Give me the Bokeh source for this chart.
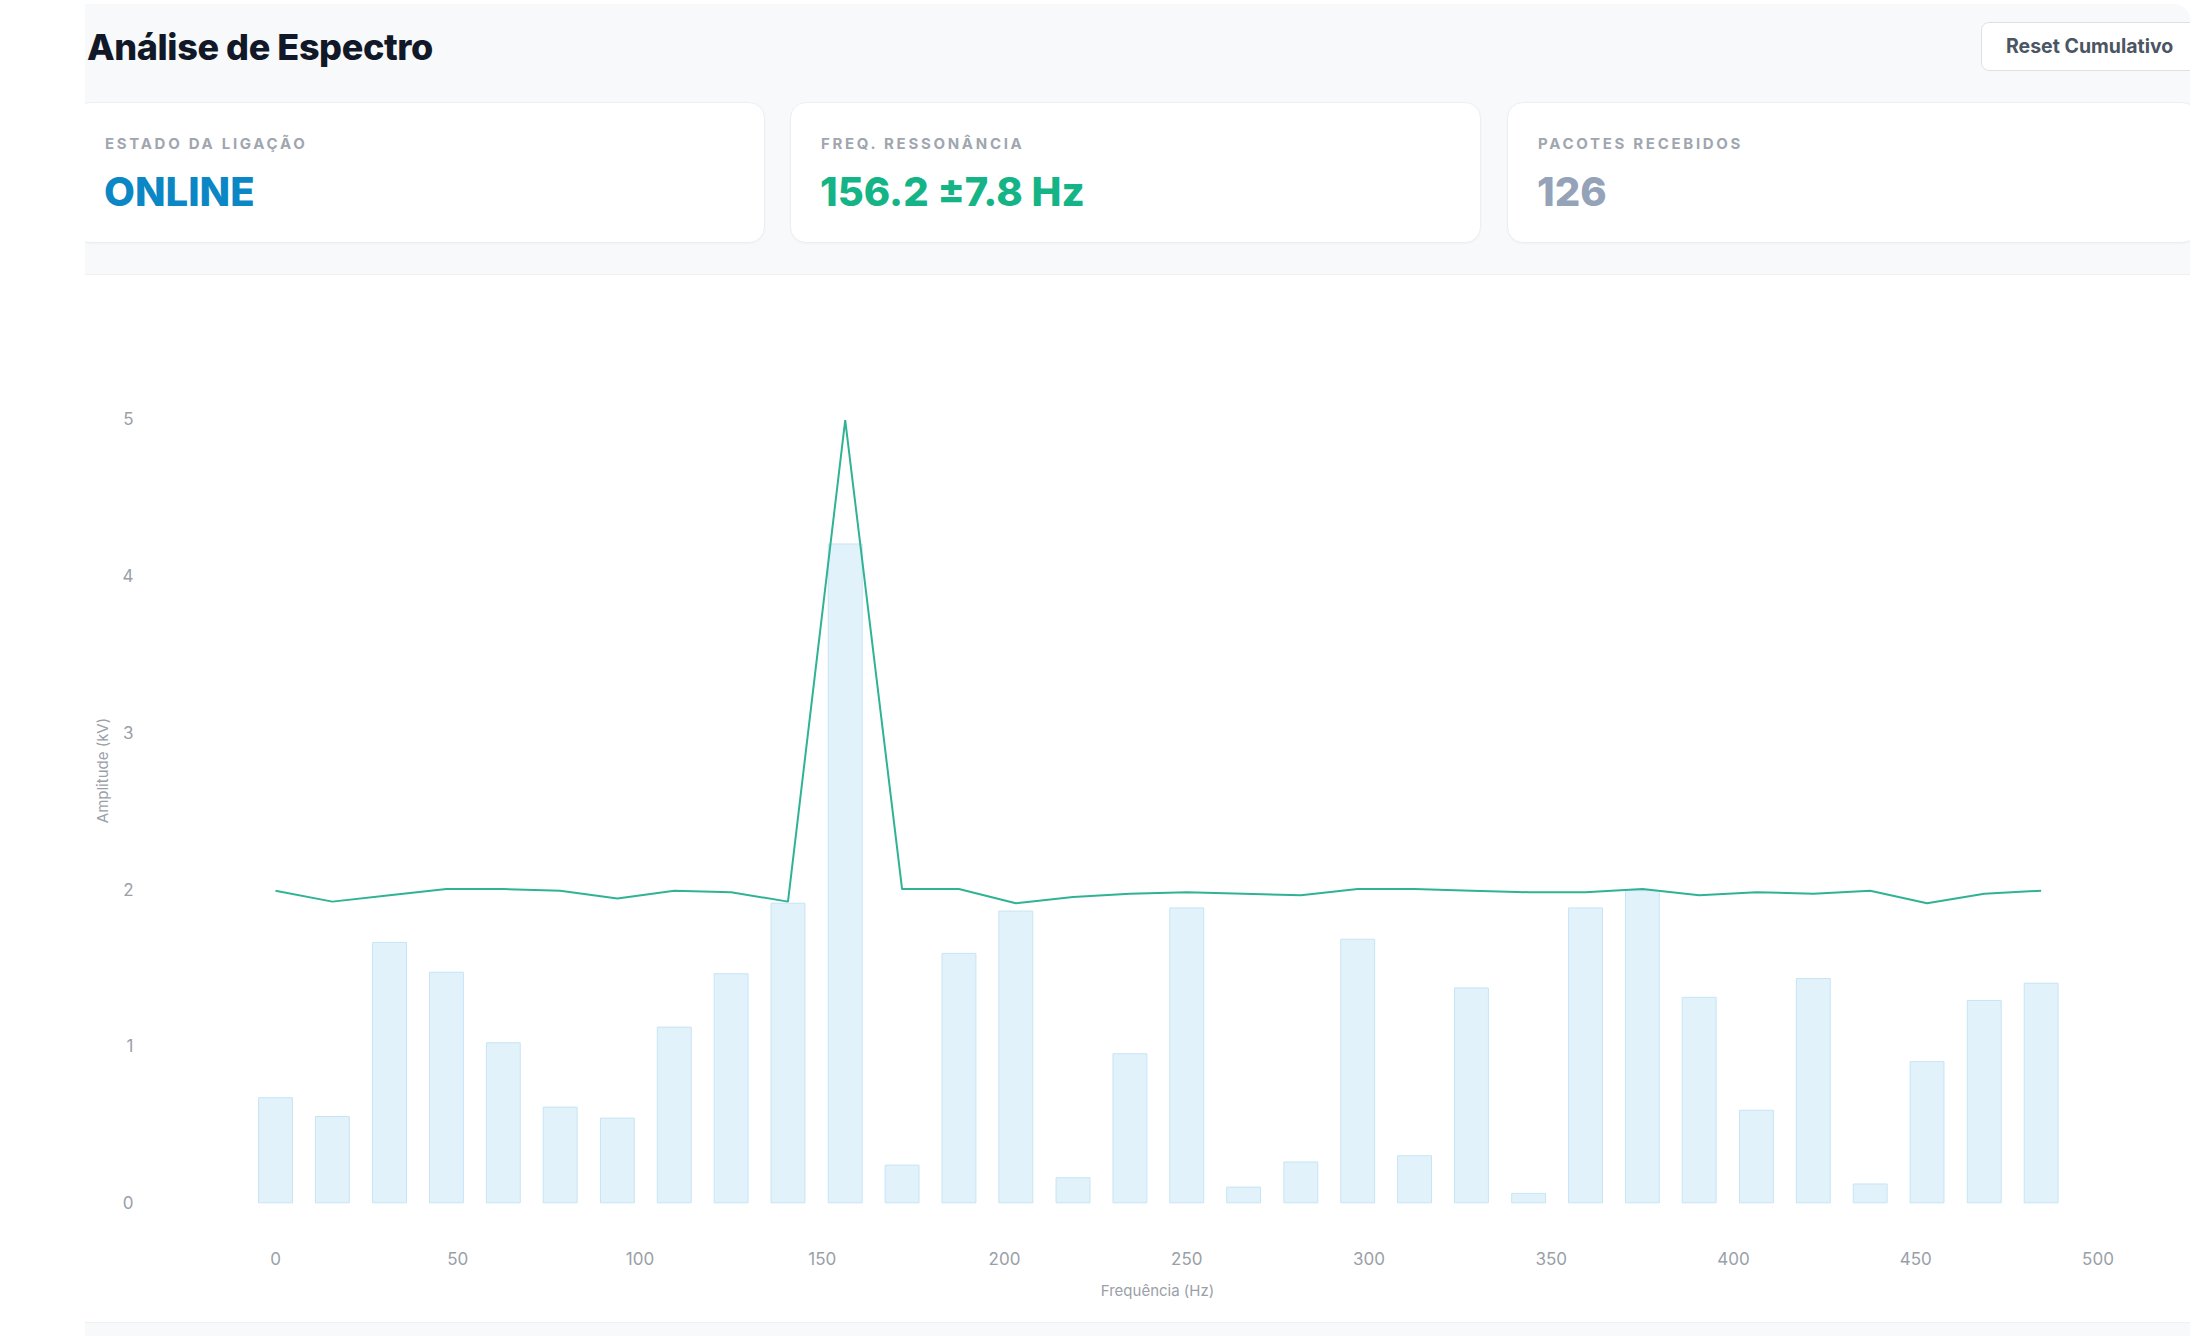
from bokeh.plotting import figure
from bokeh.models import Range1d, FixedTicker, Div
from bokeh.layouts import column
from bokeh.embed import file_html
from bokeh.resources import INLINE

# ---------------- data ----------------
freq_hz = [0, 15.6, 31.3, 46.9, 62.5, 78.1, 93.8, 109.4, 125, 140.6, 156.3, 171.9,
           187.5, 203.1, 218.8, 234.4, 250, 265.6, 281.3, 296.9, 312.5, 328.1, 343.8,
           359.4, 375, 390.6, 406.3, 421.9, 437.5, 453.1, 468.8, 484.4]
amplitude_kv = [0.67, 0.55, 1.66, 1.47, 1.02, 0.61, 0.54, 1.12, 1.46, 1.91, 4.20, 0.24,
                1.59, 1.86, 0.16, 0.95, 1.88, 0.10, 0.26, 1.68, 0.30, 1.37, 0.06,
                1.88, 1.99, 1.31, 0.59, 1.43, 0.12, 0.90, 1.29, 1.40]
cumulative_kv = [1.99, 1.92, 1.96, 2.00, 2.00, 1.99, 1.94, 1.99, 1.98, 1.92, 4.99, 2.00,
                 2.00, 1.91, 1.95, 1.97, 1.98, 1.97, 1.96, 2.00, 2.00, 1.99, 1.98,
                 1.98, 2.00, 1.96, 1.98, 1.97, 1.99, 1.91, 1.97, 1.99]
x_ticks = [0, 50, 100, 150, 200, 250, 300, 350, 400, 450, 500]
y_ticks = [0, 1, 2, 3, 4, 5]

title_text = "Análise de Espectro"
button_text = "Reset Cumulativo"
card_labels = ["ESTADO DA LIGAÇÃO", "FREQ. RESSONÂNCIA", "PACOTES RECEBIDOS"]
card_values = ["ONLINE", "156.2 ±7.8 Hz", "126"]
card_colors = ["#0a87c4", "#14b487", "#94a3b8"]

# ---------------- layout geometry ----------------
W = 2204
OFF = 8
HEADER_H = 280
FIG_H = 1042
FONT = "Inter, 'Open Sans', sans-serif"

cards_html = ""
card_lefts = [-11, 705, 1422]
for lab, val, col, left in zip(card_labels, card_values, card_colors, card_lefts):
    cards_html += (
        f'<div style="position:absolute;left:{left}px;top:98px;width:691px;height:141px;'
        f'background:#ffffff;border:1px solid #eceef1;border-radius:16px;box-sizing:border-box;'
        f'box-shadow:0 1px 2px rgba(15,23,42,0.03);">'
        f'<div style="position:absolute;left:30px;top:33px;font:700 15px/15px {FONT};'
        f'letter-spacing:2.7px;color:#a0a6b0;white-space:nowrap;">{lab}</div>'
        f'<div style="position:absolute;left:29px;top:68px;font:800 40px/42px {FONT};'
        f'letter-spacing:0px;color:{col};white-space:nowrap;">{val}</div>'
        f'</div>'
    )

header_html = (
    f'<div style="position:relative;width:{W}px;height:{HEADER_H}px;overflow:hidden;background:#ffffff;">'
    f'<div style="position:absolute;left:{77 + OFF}px;top:{OFF - 4}px;width:2105px;height:271px;overflow:hidden;'
    f'background:#f8f9fa;border-top-right-radius:16px;border-bottom:1px solid #eef0f2;">'
    f'<div style="position:absolute;left:2px;top:22px;font:800 36px/42px {FONT};'
    f'letter-spacing:-0.4px;color:#111827;white-space:nowrap;">{title_text}</div>'
    f'<div style="position:absolute;left:1896px;top:18px;width:230px;height:49px;box-sizing:border-box;'
    f'background:#ffffff;border:1.5px solid #dde1e6;border-radius:8px;">'
    f'<div style="position:absolute;left:24px;top:13px;font:700 19.5px/21px {FONT};color:#4b5563;'
    f'white-space:nowrap;">{button_text}</div></div>'
    f'{cards_html}'
    f'</div></div>'
)
header = Div(text=header_html, width=W, height=HEADER_H, margin=0)

# ---------------- chart ----------------
frame_left, frame_right = 132 + OFF, 2166 + OFF
frame_top, frame_bottom = 56, 924
x0_px, px_per_hz = 267.0 + OFF, 3.645
y0_px, px_per_kv = 922.3, 156.86

x_range = Range1d((frame_left - x0_px) / px_per_hz, (frame_right - x0_px) / px_per_hz)
y_range = Range1d((y0_px - frame_bottom) / px_per_kv, (y0_px - frame_top) / px_per_kv)

p = figure(width=W, height=FIG_H, x_range=x_range, y_range=y_range,
           output_backend="svg", toolbar_location=None,
           min_border_left=frame_left, min_border_right=W - frame_right,
           min_border_top=frame_top, min_border_bottom=FIG_H - frame_bottom,
           background_fill_color="#ffffff", border_fill_color="#ffffff", margin=0)
p.outline_line_color = None
p.grid.visible = False

p.vbar(x=freq_hz, top=amplitude_kv, bottom=0, width=9.3,
       fill_color="#e2f2fb", line_color="#c6e4f4", line_width=1)
p.line(freq_hz, cumulative_kv, line_color="#30b394", line_width=2)

for ax in (p.xaxis[0], p.yaxis[0]):
    ax.axis_line_color = None
    ax.major_tick_line_color = None
    ax.minor_tick_line_color = None
    ax.major_tick_out = 0
    ax.major_tick_in = 0
    ax.major_label_text_font = "Inter"
    ax.major_label_text_font_size = "17px"
    ax.major_label_text_color = "#9aa0a8"
    ax.axis_label_text_font = "Inter"
    ax.axis_label_text_font_size = "15px"
    ax.axis_label_text_font_style = "normal"
    ax.axis_label_text_color = "#9aa0a8"

p.xaxis[0].ticker = FixedTicker(ticks=x_ticks)
p.yaxis[0].ticker = FixedTicker(ticks=y_ticks)
p.xaxis[0].axis_label = "Frequência (Hz)"
p.yaxis[0].axis_label = "Amplitude (kV)"
p.xaxis[0].major_label_standoff = 47
p.xaxis[0].axis_label_standoff = 13
p.yaxis[0].major_label_standoff = 7
p.yaxis[0].axis_label_standoff = 8

footer = Div(text=f'<div style="position:relative;width:{W}px;height:14px;">'
                  f'<div style="position:absolute;left:{77 + OFF}px;top:0;width:2105px;height:14px;'
                  f'background:#f8f9fa;border-top:1px solid #eef0f2;"></div></div>',
             width=W, height=14, margin=0)

layout = column(header, p, footer, spacing=0, margin=0)
open("out.html", "w").write(file_html(layout, INLINE))
